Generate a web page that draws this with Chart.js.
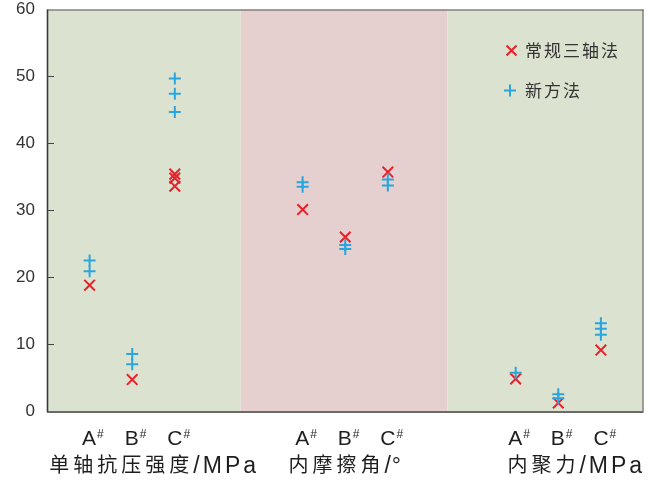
<!DOCTYPE html>
<html>
<head>
<meta charset="utf-8">
<script src="https://cdn.jsdelivr.net/npm/chart.js@4"></script>
<style>
  html, body { margin: 0; padding: 0; background: #ffffff; }
  canvas { display: block; }
</style>
</head>
<body>
<canvas id="c" width="653" height="483"></canvas>
<script>
// Sample slots on the x axis (three samples per test group, gaps between groups)
const slots = [0, 1, 2, 5, 6, 7, 10, 11, 12];
const sampleNames = ['A', 'B', 'C', 'A', 'B', 'C', 'A', 'B', 'C'];
const groupTitles = ['单轴抗压强度/MPa', '内摩擦角/°', '内聚力/MPa'];
const seriesNames = ['常规三轴法', '新方法'];
const yTicks = [0, 10, 20, 30, 40, 50, 60];

// Measured values per sample (several specimens each)
const conventional = [
  [18.8], [4.7], [35.4, 34.8, 33.6],
  [30.1], [26.0], [35.7],
  [4.8], [1.2], [9.1]
];
const newMethod = [
  [22.5, 20.9], [8.5, 7.0], [49.7, 47.4, 44.7],
  [34.2, 33.5], [24.8, 24.2], [34.6, 33.7],
  [5.7], [2.5, 1.9], [13.1, 12.3, 11.4]
];

const RED = '#e8202a';
const BLUE = '#2aa6de';

function toPoints(values) {
  const pts = [];
  values.forEach((list, i) => list.forEach(v => pts.push({ x: slots[i], y: v })));
  return pts;
}

// background bands behind each test group (in x-axis units)
const bands = [
  { from: -1, to: 3.55, color: '#dce2d0' },
  { from: 3.55, to: 8.4, color: '#e5cfcf' },
  { from: 8.4, to: 13, color: '#dce2d0' }
];
const titleShift = [22, 0, 18];

const decor = {
  id: 'decor',
  beforeDatasetsDraw(chart) {
    const { ctx, chartArea: a, scales: { x, y } } = chart;
    ctx.save();
    bands.forEach(b => {
      const l = x.getPixelForValue(b.from), r = x.getPixelForValue(b.to);
      ctx.fillStyle = b.color;
      ctx.fillRect(l, a.top, r - l, a.bottom - a.top);
    });
    // frame
    ctx.strokeStyle = '#555';
    ctx.lineWidth = 1;
    ctx.beginPath();
    ctx.moveTo(a.left, a.top + 0.5); ctx.lineTo(a.right, a.top + 0.5);
    ctx.moveTo(a.right - 0.5, a.top); ctx.lineTo(a.right - 0.5, a.bottom);
    ctx.stroke();
    ctx.strokeStyle = '#3a3a3a';
    ctx.lineWidth = 1.6;
    ctx.beginPath();
    ctx.moveTo(a.left + 0.5, a.top); ctx.lineTo(a.left + 0.5, a.bottom + 1);
    ctx.moveTo(a.left, a.bottom + 1); ctx.lineTo(a.right, a.bottom + 1);
    ctx.stroke();
    // inward tick marks
    ctx.lineWidth = 1;
    ctx.strokeStyle = '#444';
    ctx.beginPath();
    yTicks.slice(1, -1).forEach(t => {
      const py = Math.round(y.getPixelForValue(t)) + 0.5;
      ctx.moveTo(a.left, py); ctx.lineTo(a.left + 7, py);
    });
    ctx.stroke();
    ctx.restore();
  },
  afterDraw(chart) {
    const { ctx, scales: { x } } = chart;
    ctx.save();
    ctx.fillStyle = '#1e1e1e';
    ctx.textBaseline = 'alphabetic';
    ctx.textAlign = 'left';
    // sample labels with superscript #
    slots.forEach((s, i) => {
      const px = x.getPixelForValue(s) - 7.5;
      ctx.font = '21px "Liberation Sans", Arial, sans-serif';
      ctx.fillText(sampleNames[i], px, 445);
      const w = ctx.measureText(sampleNames[i]).width;
      ctx.font = '12px "Liberation Sans", Arial, sans-serif';
      ctx.fillText('#', px + w + 1, 438);
    });
    // group titles
    groupTitles.forEach((t, g) => {
      const cut = t.indexOf('/');
      const cjk = t.slice(0, cut), latin = t.slice(cut);
      const cjkFont = '20px "Noto Sans CJK SC", sans-serif';
      const latFont = '23px "Liberation Sans", Arial, sans-serif';
      ctx.letterSpacing = '4px';
      ctx.font = cjkFont;
      const w1 = ctx.measureText(cjk).width;
      ctx.letterSpacing = latin.length > 2 ? '3px' : '1px';
      ctx.font = latFont;
      const w2 = ctx.measureText(latin).width;
      const cx = x.getPixelForValue(slots[g * 3 + 1]) + titleShift[g];
      const left = cx - (w1 + w2) / 2;
      ctx.letterSpacing = '4px';
      ctx.font = cjkFont;
      ctx.fillText(cjk, left, 472);
      ctx.letterSpacing = latin.length > 2 ? '3px' : '1px';
      ctx.font = latFont;
      ctx.fillText(latin, left + w1, 473);
    });
    // legend
    ctx.letterSpacing = '2px';
    ctx.font = '17px "Noto Sans CJK SC", sans-serif';
    ctx.fillStyle = '#333';
    ctx.textBaseline = 'middle';
    ctx.fillText(seriesNames[0], 525, 51);
    ctx.fillText(seriesNames[1], 525, 91);
    ctx.lineWidth = 2;
    ctx.strokeStyle = RED;
    ctx.beginPath();
    ctx.moveTo(506.5, 45.5); ctx.lineTo(516.5, 55.5);
    ctx.moveTo(516.5, 45.5); ctx.lineTo(506.5, 55.5);
    ctx.stroke();
    ctx.strokeStyle = BLUE;
    ctx.beginPath();
    ctx.moveTo(504, 90.5); ctx.lineTo(516, 90.5);
    ctx.moveTo(510, 84.5); ctx.lineTo(510, 96.5);
    ctx.stroke();
    ctx.restore();
  }
};

new Chart(document.getElementById('c'), {
  type: 'scatter',
  data: {
    datasets: [
      {
        label: seriesNames[1],
        data: toPoints(newMethod),
        pointStyle: 'cross',
        radius: 6,
        borderColor: BLUE,
        backgroundColor: BLUE,
        borderWidth: 2
      },
      {
        label: seriesNames[0],
        data: toPoints(conventional),
        pointStyle: 'crossRot',
        radius: 7.5,
        borderColor: RED,
        backgroundColor: RED,
        borderWidth: 2
      }
    ]
  },
  options: {
    responsive: false,
    animation: false,
    events: [],
    layout: { padding: { left: 0, right: 7, top: 9, bottom: 72 } },
    plugins: { legend: { display: false }, tooltip: { enabled: false } },
    scales: {
      x: { type: 'linear', min: -1, max: 13, display: false },
      y: {
        min: 0, max: 60,
        afterBuildTicks(s) { s.ticks = yTicks.map(v => ({ value: v })); },
        afterFit(s) { s.width = 47; s.paddingTop = 0; s.paddingBottom = 0; },
        grid: { display: false, drawTicks: false },
        border: { display: false },
        ticks: {
          padding: 12,
          color: '#333',
          font: { family: '"Liberation Sans", Arial, sans-serif', size: 17 }
        }
      }
    }
  },
  plugins: [decor]
});
</script>
</body>
</html>
